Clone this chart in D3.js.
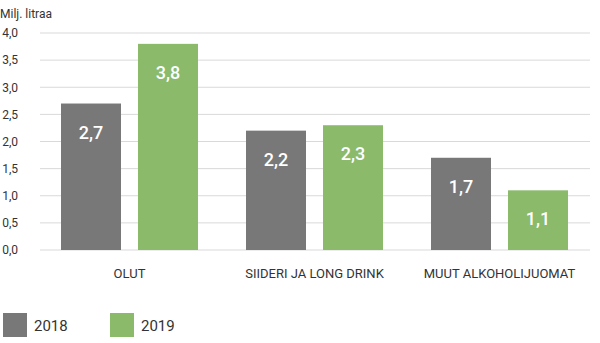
<!DOCTYPE html>
<html>
<head>
<meta charset="utf-8">
<script src="https://cdn.jsdelivr.net/npm/d3@7"></script>
<style>
  html, body { margin: 0; padding: 0; background: #fff; }
  svg { display: block; font-family: Roboto, "Open Sans", sans-serif; }
</style>
</head>
<body>
<svg id="chart" width="600" height="343"></svg>
<script>
// Sales volumes by product group, million litres
const categories = ["OLUT", "SIIDERI JA LONG DRINK", "MUUT ALKOHOLIJUOMAT"];
const years = ["2018", "2019"];
const values2018 = [2.7, 2.2, 1.7];
const values2019 = [3.8, 2.3, 1.1];
const yTicks = [0, 0.5, 1, 1.5, 2, 2.5, 3, 3.5, 4];
const yTitle = "Milj. litraa";

const colors = { "2018": "#787878", "2019": "#8aba6a" };
const fmt = v => d3.format(".1f")(v).replace(".", ",");

const svg = d3.select("#chart");

const x = d3.scaleBand().domain(categories).range([37, 592]);
const xi = d3.scaleBand().domain(years).range([0, x.bandwidth()]).paddingInner(0.2208).paddingOuter(0.3117);
const y = d3.scaleLinear().domain([0, 4]).range([250, 33]);

// gridlines
svg.append("g")
  .selectAll("line")
  .data(yTicks)
  .join("line")
  .attr("x1", 40).attr("x2", 590)
  .attr("y1", d => y(d)).attr("y2", d => y(d))
  .attr("stroke", "#d9d9d9").attr("stroke-width", 1);

// y axis tick labels
const yAxis = d3.axisLeft(y).tickValues(yTicks).tickFormat(fmt).tickSize(0).tickPadding(0);
const gy = svg.append("g").attr("transform", "translate(18,0)").call(yAxis);
gy.select(".domain").remove();
gy.selectAll("text").attr("font-size", 12).attr("fill", "#333").attr("font-family", "Roboto, sans-serif");

svg.append("text")
  .attr("x", 0).attr("y", 18)
  .attr("font-size", 12).attr("fill", "#333")
  .text(yTitle);

// bars
const rows = categories.map((c, i) => ({ cat: c, vals: [
  { year: "2018", v: values2018[i] },
  { year: "2019", v: values2019[i] }
]}));

const groups = svg.append("g").selectAll("g")
  .data(rows).join("g")
  .attr("transform", d => `translate(${x(d.cat)},0)`);

groups.selectAll("rect")
  .data(d => d.vals).join("rect")
  .attr("x", d => xi(d.year))
  .attr("width", xi.bandwidth())
  .attr("y", d => y(d.v))
  .attr("height", d => y(0) - y(d.v))
  .attr("fill", d => colors[d.year]);

groups.selectAll("text.val")
  .data(d => d.vals).join("text")
  .attr("class", "val")
  .attr("x", d => xi(d.year) + xi.bandwidth() / 2)
  .attr("y", d => y(d.v) + 35)
  .attr("text-anchor", "middle")
  .attr("font-size", 18).attr("font-weight", 500)
  .attr("fill", "#fff")
  .text(d => fmt(d.v));

// category labels
const xAxis = d3.axisBottom(x).tickSize(0).tickPadding(0);
const gx = svg.append("g").attr("transform", "translate(0,269)").call(xAxis);
gx.select(".domain").remove();
gx.selectAll("text").attr("font-size", 13).attr("fill", "#333").attr("font-family", "Roboto, sans-serif");

// legend
const legend = svg.append("g").selectAll("g")
  .data(years).join("g")
  .attr("transform", (d, i) => `translate(${3 + i * 107},313)`);
legend.append("rect").attr("width", 24).attr("height", 24).attr("fill", d => colors[d]);
legend.append("text").attr("x", 31).attr("y", 18)
  .attr("font-size", 15).attr("fill", "#333").text(d => d);
</script>
</body>
</html>
